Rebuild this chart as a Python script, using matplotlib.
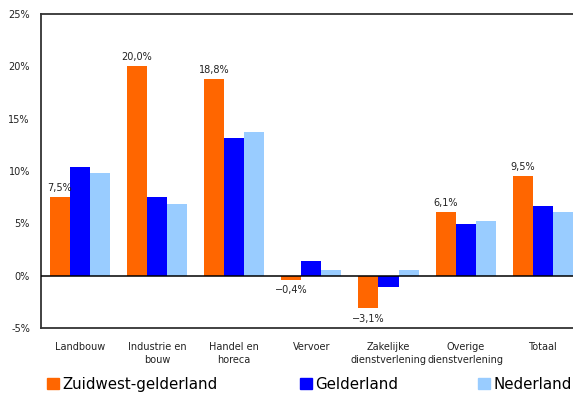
import matplotlib
matplotlib.use("Agg")
import matplotlib.pyplot as plt
import matplotlib.patches as mpatches
import numpy as np

categories = ["Landbouw", "Industrie en\nbouw", "Handel en\nhoreca", "Vervoer",
              "Zakelijke\ndienstverlening", "Overige\ndienstverlening", "Totaal"]
series_names = ["Zuidwest-gelderland", "Gelderland", "Nederland"]
zuidwest = [7.5, 20.0, 18.8, -0.4, -3.1, 6.1, 9.5]
gelderland = [10.4, 7.5, 13.2, 1.4, -1.1, 4.9, 6.7]
nederland = [9.8, 6.8, 13.7, 0.5, 0.5, 5.2, 6.1]
label_texts = ["7,5%", "20,0%", "18,8%", "\u22120,4%", "\u22123,1%", "6,1%", "9,5%"]
yticks = [-5, 0, 5, 10, 15, 20, 25]
colors = ["#FF6600", "#0000FF", "#99CCFF"]

plt.rcParams['font.family'] = ['DejaVu Sans']
fig = plt.figure(figsize=(5.73, 3.94), dpi=100)
ax = fig.add_axes([0.0716, 0.1675, 0.9284, 0.797])

x = np.arange(len(categories))
w = 0.26
for i, (vals, c) in enumerate(zip([zuidwest, gelderland, nederland], colors)):
    ax.bar(x + (i - 1) * w, vals, width=w, color=c, linewidth=0, zorder=2)

for xi, v, t in zip(x, zuidwest, label_texts):
    if v >= 0:
        ax.annotate(t, (xi - w, v), xytext=(0, 3), textcoords="offset points",
                    ha="center", va="bottom", fontsize=7, color="#222222")
    else:
        ax.annotate(t, (xi - w, v), xytext=(0, -4), textcoords="offset points",
                    ha="center", va="top", fontsize=7, color="#222222")

ax.axhline(0, color="black", linewidth=1.1, zorder=3)
ax.set_ylim(-5, 25)
ax.set_xlim(-0.5, 6.39)
ax.set_yticks(yticks)
ax.set_yticklabels([f"{t}%" for t in yticks], fontsize=7, color="#222222")
ax.set_xticks(x)
ax.set_xticklabels(categories, fontsize=7, color="#222222", linespacing=1.35, va="top")
ax.tick_params(axis="both", length=0)
ax.tick_params(axis="y", pad=8)
ax.tick_params(axis="x", pad=10)
ax.spines["right"].set_visible(False)
for s in ["top", "left", "bottom"]:
    ax.spines[s].set_color("#333333")
    ax.spines[s].set_linewidth(1.3)

legend_x = [0.082, 0.524, 0.835]
for name, c, lx in zip(series_names, colors, legend_x):
    h = mpatches.Patch(color=c, label=name)
    leg = fig.legend(handles=[h], loc="center left", bbox_to_anchor=(lx, 0.025),
                     frameon=False, fontsize=10.8, handlelength=0.8, handleheight=0.8,
                     handletextpad=0.2, borderpad=0, borderaxespad=0)

fig.savefig("out.png", dpi=100)
